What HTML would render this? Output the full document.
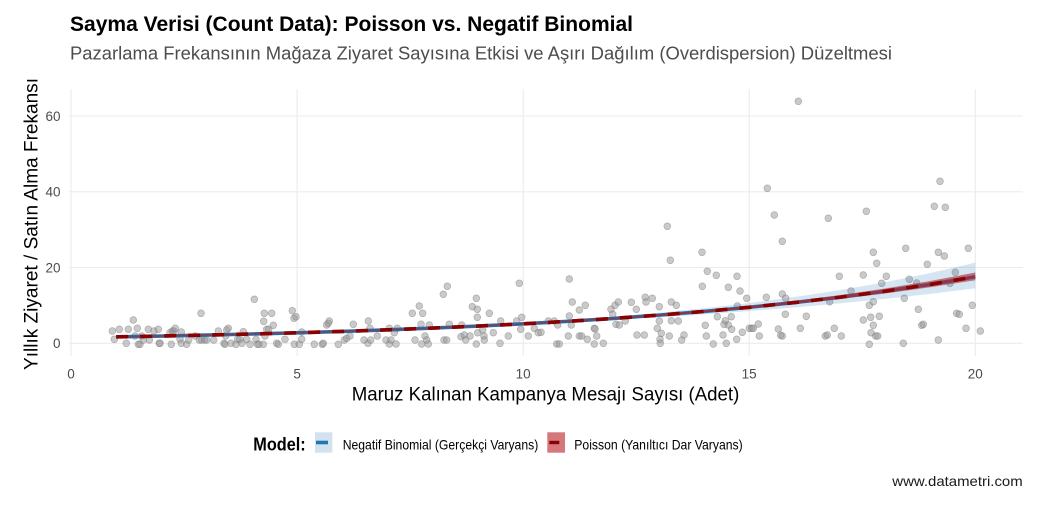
<!DOCTYPE html>
<html>
<head>
<meta charset="utf-8">
<style>
  html,body{margin:0;padding:0;background:#fff;}
  svg{display:block;}
  text{font-family:"Liberation Sans", Arial, sans-serif;}
</style>
</head>
<body>
<svg width="1047" height="506" viewBox="0 0 1047 506" xmlns="http://www.w3.org/2000/svg">
  <rect x="0" y="0" width="1047" height="506" fill="#ffffff"/>

  <!-- Titles -->
  <text x="70" y="31" font-size="21" font-weight="bold" fill="#000" textLength="563" lengthAdjust="spacingAndGlyphs">Sayma Verisi (Count Data): Poisson vs. Negatif Binomial</text>
  <text x="70" y="59.3" font-size="18" fill="#4d4d4d" textLength="822" lengthAdjust="spacingAndGlyphs">Pazarlama Frekansının Mağaza Ziyaret Sayısına Etkisi ve Aşırı Dağılım (Overdispersion) Düzeltmesi</text>

  <!-- Grid -->
  <g stroke="#ebebeb" stroke-width="1.1" fill="none">
    <line x1="69" y1="116" x2="1023" y2="116"/>
    <line x1="69" y1="191.8" x2="1023" y2="191.8"/>
    <line x1="69" y1="267.5" x2="1023" y2="267.5"/>
    <line x1="69" y1="343.3" x2="1023" y2="343.3"/>
    <line x1="71" y1="89" x2="71" y2="356"/>
    <line x1="297.1" y1="89" x2="297.1" y2="356"/>
    <line x1="523.2" y1="89" x2="523.2" y2="356"/>
    <line x1="749.2" y1="89" x2="749.2" y2="356"/>
    <line x1="975.3" y1="89" x2="975.3" y2="356"/>
  </g>

  <!-- Axis tick labels -->
  <g font-size="13.5" fill="#4d4d4d" text-anchor="end">
    <text x="60.5" y="121">60</text>
    <text x="60.5" y="196.6">40</text>
    <text x="60.5" y="272.3">20</text>
    <text x="60.5" y="348.1">0</text>
  </g>
  <g font-size="13.5" fill="#4d4d4d" text-anchor="middle">
    <text x="71" y="378.3">0</text>
    <text x="297.1" y="378.3">5</text>
    <text x="523.2" y="378.3">10</text>
    <text x="749.2" y="378.3">15</text>
    <text x="975.3" y="378.3">20</text>
  </g>

  <!-- Axis titles -->
  <text x="351.7" y="400.7" font-size="19" fill="#000" textLength="387.6" lengthAdjust="spacingAndGlyphs">Maruz Kalınan Kampanya Mesajı Sayısı (Adet)</text>
  <text transform="translate(37.5,224) rotate(-90)" x="0" y="0" font-size="19" fill="#000" text-anchor="middle" textLength="292" lengthAdjust="spacingAndGlyphs">Yıllık Ziyaret / Satın Alma Frekansı</text>

  <!-- Points -->
  <g fill="rgba(150,150,150,0.5)" stroke="rgba(110,110,110,0.45)" stroke-width="0.7">
    <circle cx="112.3" cy="331" r="3.4"/><circle cx="114.3" cy="339.3" r="3.4"/><circle cx="119.3" cy="329.3" r="3.4"/><circle cx="126.3" cy="343.3" r="3.4"/><circle cx="128.3" cy="329.3" r="3.4"/><circle cx="133.3" cy="320" r="3.4"/><circle cx="135" cy="336" r="3.4"/><circle cx="137.3" cy="328.3" r="3.4"/><circle cx="138.3" cy="344.3" r="3.4"/><circle cx="140" cy="344.3" r="3.4"/><circle cx="141.7" cy="336" r="3.4"/><circle cx="143.3" cy="340" r="3.4"/><circle cx="148.3" cy="329.3" r="3.4"/><circle cx="149.3" cy="340" r="3.4"/><circle cx="154" cy="331" r="3.4"/><circle cx="158.3" cy="329.3" r="3.4"/><circle cx="159.3" cy="343.3" r="3.4"/><circle cx="160" cy="343.3" r="3.4"/><circle cx="170" cy="332.7" r="3.4"/><circle cx="171.3" cy="344.3" r="3.4"/><circle cx="172.3" cy="331" r="3.4"/><circle cx="174" cy="331" r="3.4"/><circle cx="175.3" cy="328.3" r="3.4"/><circle cx="180" cy="339.3" r="3.4"/><circle cx="181.3" cy="332" r="3.4"/><circle cx="181.3" cy="343.3" r="3.4"/><circle cx="186.7" cy="344.3" r="3.4"/><circle cx="188.7" cy="340" r="3.4"/><circle cx="195" cy="336" r="3.4"/><circle cx="199.3" cy="340" r="3.4"/><circle cx="201" cy="313.3" r="3.4"/><circle cx="201.7" cy="340" r="3.4"/><circle cx="204.7" cy="340" r="3.4"/><circle cx="206.7" cy="340" r="3.4"/><circle cx="213.7" cy="340" r="3.4"/><circle cx="218.3" cy="331" r="3.4"/><circle cx="224" cy="343.3" r="3.4"/><circle cx="225" cy="344.3" r="3.4"/><circle cx="225.7" cy="336" r="3.4"/><circle cx="226.7" cy="330" r="3.4"/><circle cx="228.3" cy="328.3" r="3.4"/><circle cx="231" cy="343.3" r="3.4"/><circle cx="236" cy="344.3" r="3.4"/><circle cx="237.7" cy="339.3" r="3.4"/><circle cx="240" cy="339.3" r="3.4"/><circle cx="242" cy="343.3" r="3.4"/><circle cx="243.3" cy="331.7" r="3.4"/><circle cx="246.7" cy="339.3" r="3.4"/><circle cx="250" cy="344.3" r="3.4"/><circle cx="254.3" cy="299.3" r="3.4"/><circle cx="256" cy="339.3" r="3.4"/><circle cx="257.3" cy="344.3" r="3.4"/><circle cx="259" cy="344.3" r="3.4"/><circle cx="263.3" cy="344.3" r="3.4"/><circle cx="263.7" cy="321.3" r="3.4"/><circle cx="264.3" cy="313.3" r="3.4"/><circle cx="265" cy="336" r="3.4"/><circle cx="266.7" cy="329.3" r="3.4"/><circle cx="268.7" cy="329.3" r="3.4"/><circle cx="271.7" cy="313.3" r="3.4"/><circle cx="273.3" cy="325.3" r="3.4"/><circle cx="276.7" cy="343.3" r="3.4"/><circle cx="278.3" cy="344.3" r="3.4"/><circle cx="285" cy="339.3" r="3.4"/><circle cx="292.3" cy="310.7" r="3.4"/><circle cx="294" cy="318.3" r="3.4"/><circle cx="296" cy="316.7" r="3.4"/><circle cx="294.3" cy="344.3" r="3.4"/><circle cx="299.3" cy="344.3" r="3.4"/><circle cx="301.7" cy="339.3" r="3.4"/><circle cx="301.7" cy="332" r="3.4"/><circle cx="314.3" cy="344.3" r="3.4"/><circle cx="322.3" cy="344.3" r="3.4"/><circle cx="323.3" cy="343.3" r="3.4"/><circle cx="326.7" cy="325" r="3.4"/><circle cx="329.3" cy="321" r="3.4"/><circle cx="328.3" cy="323.3" r="3.4"/><circle cx="338.3" cy="344.3" r="3.4"/><circle cx="344.3" cy="340" r="3.4"/><circle cx="346.7" cy="338.3" r="3.4"/>
    <circle cx="350" cy="336" r="3.4"/><circle cx="353.3" cy="324.3" r="3.4"/><circle cx="364" cy="340" r="3.4"/><circle cx="368" cy="343.3" r="3.4"/><circle cx="368.3" cy="321" r="3.4"/><circle cx="370" cy="328.3" r="3.4"/><circle cx="370.7" cy="340" r="3.4"/><circle cx="377.3" cy="336" r="3.4"/><circle cx="386" cy="340" r="3.4"/><circle cx="389.3" cy="344" r="3.4"/><circle cx="389.3" cy="328.3" r="3.4"/><circle cx="391" cy="340" r="3.4"/><circle cx="394.3" cy="332.7" r="3.4"/><circle cx="396" cy="344" r="3.4"/><circle cx="397.3" cy="328.3" r="3.4"/><circle cx="412.3" cy="313.3" r="3.4"/><circle cx="415" cy="340" r="3.4"/><circle cx="419.3" cy="306" r="3.4"/><circle cx="421.7" cy="344" r="3.4"/><circle cx="422.7" cy="313.3" r="3.4"/><circle cx="421" cy="324.3" r="3.4"/><circle cx="425" cy="336" r="3.4"/><circle cx="426.7" cy="340" r="3.4"/><circle cx="428.3" cy="344" r="3.4"/><circle cx="429.3" cy="325" r="3.4"/><circle cx="443.3" cy="294.3" r="3.4"/><circle cx="447.3" cy="286.3" r="3.4"/><circle cx="444" cy="340" r="3.4"/><circle cx="446.7" cy="340" r="3.4"/><circle cx="449.3" cy="324.3" r="3.4"/><circle cx="461.7" cy="325" r="3.4"/><circle cx="461" cy="336.7" r="3.4"/><circle cx="464.3" cy="335" r="3.4"/><circle cx="465.7" cy="340" r="3.4"/><circle cx="470" cy="336" r="3.4"/><circle cx="472.3" cy="306.7" r="3.4"/><circle cx="476.3" cy="298.3" r="3.4"/><circle cx="477.3" cy="309.3" r="3.4"/><circle cx="477.3" cy="317.3" r="3.4"/><circle cx="476.3" cy="344" r="3.4"/><circle cx="477.7" cy="332.7" r="3.4"/><circle cx="482.7" cy="330" r="3.4"/><circle cx="484" cy="336" r="3.4"/><circle cx="484.3" cy="340" r="3.4"/><circle cx="489.3" cy="313.3" r="3.4"/><circle cx="493.3" cy="332.7" r="3.4"/><circle cx="500" cy="343.3" r="3.4"/><circle cx="500.7" cy="321" r="3.4"/>
    <circle cx="508.3" cy="336" r="3.4"/><circle cx="516.7" cy="321" r="3.4"/><circle cx="519.3" cy="283.3" r="3.4"/><circle cx="521.7" cy="317.3" r="3.4"/><circle cx="520.7" cy="329.3" r="3.4"/><circle cx="528.3" cy="336" r="3.4"/><circle cx="534.3" cy="328.3" r="3.4"/><circle cx="538.3" cy="332.7" r="3.4"/><circle cx="541" cy="332.3" r="3.4"/><circle cx="548.3" cy="321" r="3.4"/><circle cx="554.3" cy="321" r="3.4"/><circle cx="557.7" cy="325" r="3.4"/><circle cx="556.7" cy="344" r="3.4"/><circle cx="559.3" cy="344" r="3.4"/><circle cx="568.3" cy="336" r="3.4"/><circle cx="569.3" cy="279" r="3.4"/><circle cx="569.3" cy="316" r="3.4"/><circle cx="572.3" cy="302" r="3.4"/><circle cx="571.3" cy="325" r="3.4"/><circle cx="579.3" cy="310" r="3.4"/><circle cx="579.3" cy="336" r="3.4"/><circle cx="581.7" cy="336" r="3.4"/><circle cx="585.3" cy="305.3" r="3.4"/><circle cx="587.3" cy="339.3" r="3.4"/><circle cx="594.3" cy="328.3" r="3.4"/><circle cx="595" cy="329" r="3.4"/><circle cx="594.3" cy="344" r="3.4"/><circle cx="596.7" cy="336" r="3.4"/><circle cx="603.3" cy="343.3" r="3.4"/><circle cx="611" cy="309.3" r="3.4"/><circle cx="612.7" cy="314.3" r="3.4"/><circle cx="615" cy="305.3" r="3.4"/><circle cx="618.3" cy="302" r="3.4"/><circle cx="616" cy="324.3" r="3.4"/><circle cx="619.3" cy="325" r="3.4"/><circle cx="625.3" cy="321" r="3.4"/><circle cx="631.3" cy="302.3" r="3.4"/><circle cx="636.3" cy="309.3" r="3.4"/><circle cx="637" cy="335" r="3.4"/><circle cx="644.3" cy="335" r="3.4"/><circle cx="645.3" cy="297.3" r="3.4"/><circle cx="646" cy="302" r="3.4"/><circle cx="652.3" cy="298.3" r="3.4"/><circle cx="657.3" cy="328.3" r="3.4"/><circle cx="659.3" cy="306.7" r="3.4"/><circle cx="659.3" cy="321" r="3.4"/><circle cx="661.3" cy="333.3" r="3.4"/><circle cx="660" cy="339.3" r="3.4"/><circle cx="660.3" cy="343.3" r="3.4"/><circle cx="667.3" cy="226.3" r="3.4"/><circle cx="670.3" cy="260.3" r="3.4"/><circle cx="669.3" cy="336" r="3.4"/><circle cx="671.3" cy="302" r="3.4"/><circle cx="671.3" cy="320.7" r="3.4"/><circle cx="676.3" cy="305.3" r="3.4"/><circle cx="678.3" cy="321" r="3.4"/><circle cx="681.7" cy="340" r="3.4"/><circle cx="684" cy="335" r="3.4"/><circle cx="702" cy="252.3" r="3.4"/><circle cx="702.3" cy="286.3" r="3.4"/><circle cx="705.3" cy="325.3" r="3.4"/><circle cx="707.3" cy="271.3" r="3.4"/><circle cx="706.3" cy="336" r="3.4"/><circle cx="713.3" cy="344" r="3.4"/><circle cx="716.3" cy="275.3" r="3.4"/><circle cx="717.3" cy="316.7" r="3.4"/><circle cx="724" cy="324.3" r="3.4"/><circle cx="725.3" cy="320.7" r="3.4"/><circle cx="728.3" cy="287.3" r="3.4"/><circle cx="728.3" cy="325" r="3.4"/><circle cx="723" cy="335" r="3.4"/><circle cx="726.3" cy="343.3" r="3.4"/><circle cx="731.7" cy="329.3" r="3.4"/><circle cx="731.3" cy="316.7" r="3.4"/><circle cx="737" cy="276.3" r="3.4"/><circle cx="737.3" cy="306" r="3.4"/><circle cx="736.7" cy="339.3" r="3.4"/><circle cx="740" cy="291" r="3.4"/>
    <circle cx="742.3" cy="332.3" r="3.4"/><circle cx="746.7" cy="298.3" r="3.4"/><circle cx="749.3" cy="328.3" r="3.4"/><circle cx="751.7" cy="328.3" r="3.4"/><circle cx="753.3" cy="328.3" r="3.4"/><circle cx="758.3" cy="324" r="3.4"/><circle cx="759.3" cy="336" r="3.4"/><circle cx="766.3" cy="297.3" r="3.4"/><circle cx="767.3" cy="188.3" r="3.4"/><circle cx="774.3" cy="215" r="3.4"/><circle cx="778.3" cy="329" r="3.4"/><circle cx="780.7" cy="335.3" r="3.4"/><circle cx="782.3" cy="336" r="3.4"/><circle cx="782.3" cy="241.3" r="3.4"/><circle cx="782.3" cy="294" r="3.4"/><circle cx="785.7" cy="298.3" r="3.4"/><circle cx="785.3" cy="314.3" r="3.4"/><circle cx="798.3" cy="101.3" r="3.4"/><circle cx="800.3" cy="328.3" r="3.4"/><circle cx="806.3" cy="316.3" r="3.4"/><circle cx="825.3" cy="336" r="3.4"/><circle cx="827.3" cy="335" r="3.4"/><circle cx="828.3" cy="218.3" r="3.4"/><circle cx="829.7" cy="301.7" r="3.4"/><circle cx="834.3" cy="328.3" r="3.4"/><circle cx="839.3" cy="276.3" r="3.4"/><circle cx="841.3" cy="336" r="3.4"/><circle cx="851" cy="291" r="3.4"/><circle cx="863.3" cy="275" r="3.4"/><circle cx="863.3" cy="320" r="3.4"/><circle cx="866.3" cy="211.3" r="3.4"/><circle cx="869.3" cy="305.3" r="3.4"/><circle cx="869.3" cy="344.3" r="3.4"/><circle cx="870.7" cy="317.3" r="3.4"/><circle cx="871" cy="332.7" r="3.4"/><circle cx="873.3" cy="325.3" r="3.4"/><circle cx="873.3" cy="252.3" r="3.4"/><circle cx="873.3" cy="301.7" r="3.4"/><circle cx="875.7" cy="336" r="3.4"/><circle cx="876.7" cy="263.3" r="3.4"/><circle cx="877.7" cy="336" r="3.4"/><circle cx="879.3" cy="316.3" r="3.4"/><circle cx="881.7" cy="283.3" r="3.4"/><circle cx="886.3" cy="276.3" r="3.4"/><circle cx="903.3" cy="343.3" r="3.4"/><circle cx="904.3" cy="298.3" r="3.4"/><circle cx="905.7" cy="248.3" r="3.4"/><circle cx="909.3" cy="279.3" r="3.4"/><circle cx="916.7" cy="283" r="3.4"/><circle cx="918.3" cy="309.3" r="3.4"/><circle cx="921.7" cy="325.3" r="3.4"/><circle cx="923.3" cy="324.3" r="3.4"/><circle cx="927.3" cy="264.3" r="3.4"/><circle cx="934.3" cy="206.3" r="3.4"/><circle cx="938.3" cy="252.3" r="3.4"/><circle cx="938.3" cy="340" r="3.4"/><circle cx="940" cy="181.3" r="3.4"/><circle cx="944.3" cy="256" r="3.4"/><circle cx="945.3" cy="207.3" r="3.4"/><circle cx="950" cy="283.3" r="3.4"/><circle cx="955.3" cy="272.3" r="3.4"/><circle cx="956.7" cy="313.3" r="3.4"/><circle cx="959.3" cy="314.3" r="3.4"/><circle cx="966" cy="328.3" r="3.4"/><circle cx="968.3" cy="248.3" r="3.4"/><circle cx="972.3" cy="305.3" r="3.4"/><circle cx="980.3" cy="331" r="3.4"/>
  </g>

  <!-- NB ribbon -->
  <polygon fill="rgba(45,130,190,0.2)" points="116.2,335.87 161.4,335.03 206.6,334.09 251.9,333.05 297.1,331.88 342.3,330.55 387.5,329.05 432.7,327.32 477.9,325.29 523.2,322.87 568.4,320.0 613.6,316.64 658.8,312.75 704.0,308.24 749.2,303.04 794.4,297.06 839.7,290.17 884.9,282.23 930.1,273.11 975.3,262.61 975.3,288.37 930.1,293.92 884.9,298.91 839.7,303.40 794.4,307.44 749.2,311.09 704.0,314.38 658.8,317.34 613.6,320.03 568.4,322.49 523.2,324.74 477.9,326.84 432.7,328.79 387.5,330.57 342.3,332.17 297.1,333.59 251.9,334.84 206.6,335.93 161.4,336.89 116.2,337.72"/>
  <!-- NB line -->
  <polyline fill="none" stroke="#1f78b4" stroke-width="3.6" stroke-linejoin="round" points="116.2,336.86 161.4,336.02 206.6,335.06 251.9,333.99 297.1,332.77 342.3,331.39 387.5,329.83 432.7,328.07 477.9,326.08 523.2,323.83 568.4,321.28 613.6,318.40 658.8,315.14 704.0,311.46 749.2,307.29 794.4,302.58 839.7,297.26 884.9,291.23 930.1,284.42 975.3,276.72"/>
  <!-- Poisson ribbon -->
  <polygon fill="rgba(175,35,45,0.6)" points="116.2,336.56 161.4,335.72 206.6,334.77 251.9,333.71 297.1,332.50 342.3,331.14 387.5,329.60 432.7,327.85 477.9,325.84 523.2,323.54 568.4,320.90 613.6,317.87 658.8,314.42 704.0,310.49 749.2,306.02 794.4,300.92 839.7,295.13 884.9,288.53 930.1,281.03 975.3,272.49 975.3,280.22 930.1,287.27 884.9,293.53 839.7,299.10 794.4,304.04 749.2,308.43 704.0,312.34 658.8,315.80 613.6,318.89 568.4,321.64 523.2,324.10 477.9,326.31 432.7,328.29 387.5,330.05 342.3,331.62 297.1,333.02 251.9,334.25 206.6,335.32 161.4,336.28 116.2,337.12"/>
  <polyline fill="none" stroke="rgba(175,35,45,0.45)" stroke-width="2.2" points="116.2,336.86 161.4,336.02 206.6,335.06 251.9,333.99 297.1,332.77 342.3,331.39 387.5,329.83 432.7,328.07 477.9,326.08 523.2,323.83 568.4,321.28 613.6,318.40 658.8,315.14 704.0,311.46 749.2,307.29 794.4,302.58 839.7,297.26 884.9,291.23 930.1,284.42 975.3,276.72"/>
  <!-- Poisson dashed line -->
  <polyline fill="none" stroke="#8b0000" stroke-width="3.6" stroke-dasharray="12 12" points="116.2,336.86 161.4,336.02 206.6,335.06 251.9,333.99 297.1,332.77 342.3,331.39 387.5,329.83 432.7,328.07 477.9,326.08 523.2,323.83 568.4,321.28 613.6,318.40 658.8,315.14 704.0,311.46 749.2,307.29 794.4,302.58 839.7,297.26 884.9,291.23 930.1,284.42 975.3,276.72"/>

  <!-- Legend -->
  <text x="253.3" y="450.7" font-size="18.7" font-weight="bold" fill="#000" textLength="52.4" lengthAdjust="spacingAndGlyphs">Model:</text>
  <rect x="315" y="432.3" width="17.3" height="20.4" fill="#d2e3ef"/>
  <line x1="316" y1="442.5" x2="328" y2="442.5" stroke="#1f78b4" stroke-width="3.6"/>
  <text x="342.7" y="449.3" font-size="14" fill="#000" textLength="195.6" lengthAdjust="spacingAndGlyphs">Negatif Binomial (Gerçekçi Varyans)</text>
  <rect x="547.3" y="432.3" width="17.7" height="20.4" fill="#d4787c"/>
  <line x1="549.3" y1="442.5" x2="559.3" y2="442.5" stroke="#8b0000" stroke-width="3.4"/>
  <text x="574.3" y="449.3" font-size="14" fill="#000" textLength="168.4" lengthAdjust="spacingAndGlyphs">Poisson (Yanıltıcı Dar Varyans)</text>

  <!-- Caption -->
  <text x="1022.7" y="486" font-size="14" fill="#1a1a1a" text-anchor="end" textLength="130.4" lengthAdjust="spacingAndGlyphs">www.datametri.com</text>
</svg>
</body>
</html>
